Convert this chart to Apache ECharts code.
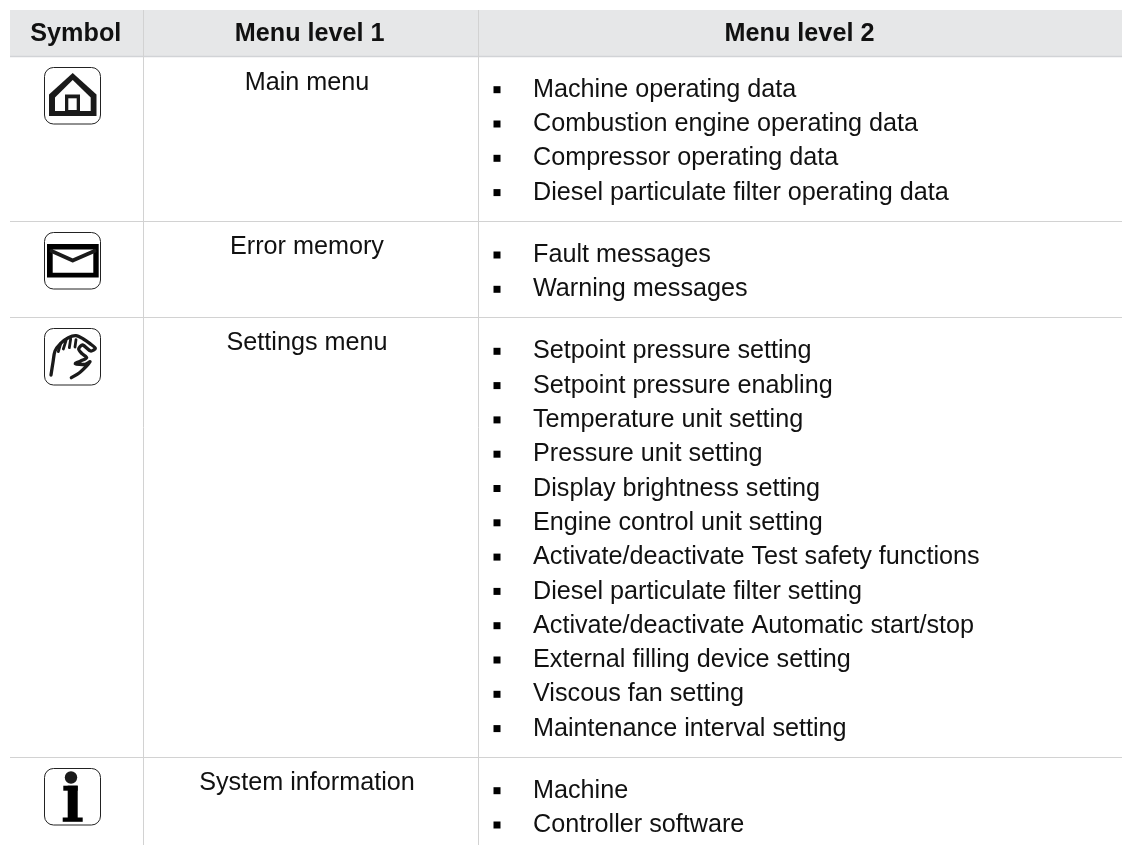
<!DOCTYPE html>
<html>
<head>
<meta charset="utf-8">
<title>Menu overview</title>
<style>
  html, body { margin: 0; padding: 0; background: #fff; }
  #main { width: 1123px; height: 845px; }
</style>
<script src="https://cdn.jsdelivr.net/npm/echarts@6/dist/echarts.min.js"></script>
</head>
<body>
<div id="main"></div>
<script>
var headers = ["Symbol", "Menu level 1", "Menu level 2"];
var level1 = ["Main menu", "Error memory", "Settings menu", "System information"];
var mainItems = [
  "Machine operating data",
  "Combustion engine operating data",
  "Compressor operating data",
  "Diesel particulate filter operating data"
];
var errorItems = ["Fault messages", "Warning messages"];
var settingsItems = [
  "Setpoint pressure setting",
  "Setpoint pressure enabling",
  "Temperature unit setting",
  "Pressure unit setting",
  "Display brightness setting",
  "Engine control unit setting",
  "Activate/deactivate Test safety functions",
  "Diesel particulate filter setting",
  "Activate/deactivate Automatic start/stop",
  "External filling device setting",
  "Viscous fan setting",
  "Maintenance interval setting"
];
var systemItems = ["Machine", "Controller software"];
var level2 = [mainItems, errorItems, settingsItems, systemItems];

// layout of the table, in px
var FONT = '"Liberation Sans", Arial, sans-serif';
var FONT_SIZE = 25.2;
var INK = "#1a1a1a";
var LINE = "#d2d2d2";
var colX = [143.5, 478.5];
var rowLines = [221.5, 317.5, 757.5];
var headerX = [75.8, 309.7, 799.5];
var level1X = 307;
var level1Y = [83.5, 247.5, 343.5, 783.5];
var bulletY = [89.7, 255, 351.3, 790.7];
var ROW_STEP = 34.3;
var iconTops = [67.5, 232.5, 328.5, 768.5];

var g = [];

function rect(x, y, w, h, fill) {
  g.push({ type: "rect", silent: true, shape: { x: x, y: y, width: w, height: h }, style: { fill: fill } });
}
function line(x1, y1, x2, y2, color, width) {
  g.push({ type: "line", silent: true, shape: { x1: x1, y1: y1, x2: x2, y2: y2 }, style: { stroke: color, lineWidth: width } });
}
function text(str, x, y, align, bold) {
  g.push({
    type: "text", silent: true, x: x, y: y,
    style: {
      text: str, fill: "#111", align: align, verticalAlign: "middle",
      font: (bold ? "bold " : "") + FONT_SIZE + "px " + FONT
    }
  });
}
function poly(points, fill) {
  g.push({ type: "polygon", silent: true, shape: { points: points }, style: { fill: fill } });
}
function stroke(points, width, smooth) {
  g.push({
    type: "polyline", silent: true, shape: { points: points, smooth: smooth || 0 },
    style: { stroke: INK, lineWidth: width, fill: null, lineCap: "round", lineJoin: "round" }
  });
}
function iconFrame(top) {
  g.push({
    type: "rect", silent: true, shape: { x: 44.5, y: top, width: 56, height: 56.5, r: 9 },
    style: { fill: "#fff", stroke: "#222", lineWidth: 1 }
  });
}

function drawHouse() {
  poly([[72.7, 73], [96.5, 94.5], [96.5, 116], [49, 116], [49, 94.5]], INK);
  poly([[72.7, 80], [90.7, 97.5], [90.7, 111], [55, 111], [55, 97.5]], "#fff");
  rect(65, 94.5, 15, 17.5, INK);
  rect(68.3, 98.3, 8.4, 11.7, "#fff");
}
function drawEnvelope() {
  rect(47, 244, 51.7, 33.4, "#000");
  rect(52.7, 249.4, 40.6, 23.3, "#fff");
  stroke([[51.5, 251], [72.7, 260.5], [94.5, 251]], 4);
}
function drawHand() {
  // coordinates are relative to the 66x64 icon box at (40,325), x3
  function p(list) {
    return list.map(function (a) { return [40 + a[0] / 3, 325 + a[1] / 3]; });
  }
  stroke(p([[33, 150], [39, 112], [45, 78], [62, 55], [85, 38], [108, 32], [130, 42], [150, 56], [166, 70], [152, 78], [128, 60], [116, 72], [126, 86], [140, 98], [122, 108], [106, 116], [135, 118], [150, 110], [122, 140], [94, 158]]), 3.3, 0.3);
  stroke(p([[55, 80], [62, 56]]), 2.8);
  stroke(p([[70, 72], [78, 47]]), 2.8);
  stroke(p([[88, 68], [92, 42]]), 2.8);
  stroke(p([[105, 66], [108, 44]]), 2.8);
}
function drawInfo() {
  g.push({ type: "circle", silent: true, shape: { cx: 71, cy: 777.5, r: 6.2 }, style: { fill: INK } });
  rect(63.3, 785.7, 14.4, 5, "#000");
  rect(67.7, 785.7, 10, 33, "#000");
  rect(62.7, 817.5, 20, 4.3, "#000");
}

// header band
rect(10, 10, 1112, 46, "#e6e7e8");
line(10, 56.5, 1122, 56.5, "#d1d3d6", 1.5);

// grid lines
colX.forEach(function (x) { line(x, 10, x, 845, LINE, 1); });
rowLines.forEach(function (y) { line(10, y, 1122, y, LINE, 1); });

// header text
headers.forEach(function (h, i) { text(h, headerX[i], 34.5, "center", true); });

// rows
level1.forEach(function (name, i) {
  text(name, level1X, level1Y[i], "center", false);
  iconFrame(iconTops[i]);
  level2[i].forEach(function (item, j) {
    var y = bulletY[i] + j * ROW_STEP;
    rect(493.5, y - 3.5, 7, 7, "#000");
    text(item, 533, y + 0.2, "left", false);
  });
});

drawHouse();
drawEnvelope();
drawHand();
drawInfo();

var chart = echarts.init(document.getElementById("main"), null, { renderer: "canvas" });
chart.setOption({
  animation: false,
  backgroundColor: "#fff",
  graphic: { elements: g }
});
</script>
</body>
</html>
